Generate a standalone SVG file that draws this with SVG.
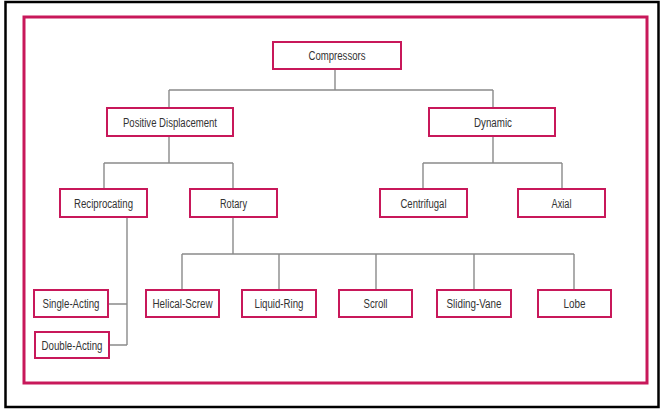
<svg xmlns="http://www.w3.org/2000/svg" width="661" height="409" viewBox="0 0 661 409">
<style>
.n rect{fill:#fff;stroke:#c8185a;stroke-width:2}
.n text{font-family:"Liberation Sans",Arial,sans-serif;font-size:12px;fill:#333;text-anchor:middle}
#connectors path{fill:none;stroke:#8a8a8a;stroke-width:1.4}
</style>
<rect x="0" y="0" width="661" height="409" fill="#fff"/>
<rect x="5.5" y="2" width="653" height="405" fill="none" stroke="#000" stroke-width="2.5"/>
<rect x="24" y="17" width="623" height="366" fill="none" stroke="#c8185a" stroke-width="3"/>
<g id="connectors">
<path d="M335 69V90M169 90H493M169 90V108M493 90V108"/>
<path d="M169 136V163M104 163H233M104 163V189M233 163V189"/>
<path d="M493 136V163M423 163H562M423 163V189M562 163V189"/>
<path d="M233 217V254M182 254H574M182 254V290M279 254V290M376 254V290M474 254V290M574 254V290"/>
<path d="M127 217V345M108 304H127M109 345H127"/>
</g>
<g id="compressors" class="n"><rect x="273" y="42" width="128" height="27"/><text x="337" y="59.5" textLength="57" lengthAdjust="spacingAndGlyphs">Compressors</text></g>
<g id="positive-displacement" class="n"><rect x="107" y="108" width="126" height="28"/><text x="170" y="126.5" textLength="94" lengthAdjust="spacingAndGlyphs">Positive Displacement</text></g>
<g id="dynamic" class="n"><rect x="429" y="108" width="126" height="28"/><text x="493" y="126.5" textLength="38" lengthAdjust="spacingAndGlyphs">Dynamic</text></g>
<g id="reciprocating" class="n"><rect x="60" y="189" width="87" height="28"/><text x="103.5" y="207.5" textLength="59" lengthAdjust="spacingAndGlyphs">Reciprocating</text></g>
<g id="rotary" class="n"><rect x="190" y="189" width="87" height="28"/><text x="233.5" y="207.5" textLength="27" lengthAdjust="spacingAndGlyphs">Rotary</text></g>
<g id="centrifugal" class="n"><rect x="380" y="189" width="87" height="28"/><text x="423.5" y="207.5" textLength="46" lengthAdjust="spacingAndGlyphs">Centrifugal</text></g>
<g id="axial" class="n"><rect x="518" y="189" width="87" height="28"/><text x="561.5" y="207.5" textLength="20" lengthAdjust="spacingAndGlyphs">Axial</text></g>
<g id="single-acting" class="n"><rect x="34" y="290" width="74" height="27"/><text x="71" y="308" textLength="57" lengthAdjust="spacingAndGlyphs">Single-Acting</text></g>
<g id="double-acting" class="n"><rect x="35" y="332" width="74" height="26"/><text x="72" y="349.5" textLength="61" lengthAdjust="spacingAndGlyphs">Double-Acting</text></g>
<g id="helical-screw" class="n"><rect x="146" y="290" width="73" height="27"/><text x="182.5" y="308" textLength="60" lengthAdjust="spacingAndGlyphs">Helical-Screw</text></g>
<g id="liquid-ring" class="n"><rect x="242" y="290" width="74" height="27"/><text x="279" y="308" textLength="49" lengthAdjust="spacingAndGlyphs">Liquid-Ring</text></g>
<g id="scroll" class="n"><rect x="339" y="290" width="73" height="27"/><text x="375.5" y="308" textLength="24" lengthAdjust="spacingAndGlyphs">Scroll</text></g>
<g id="sliding-vane" class="n"><rect x="437" y="290" width="74" height="27"/><text x="474" y="308" textLength="55" lengthAdjust="spacingAndGlyphs">Sliding-Vane</text></g>
<g id="lobe" class="n"><rect x="538" y="290" width="73" height="27"/><text x="574.5" y="308" textLength="22" lengthAdjust="spacingAndGlyphs">Lobe</text></g>
</svg>
